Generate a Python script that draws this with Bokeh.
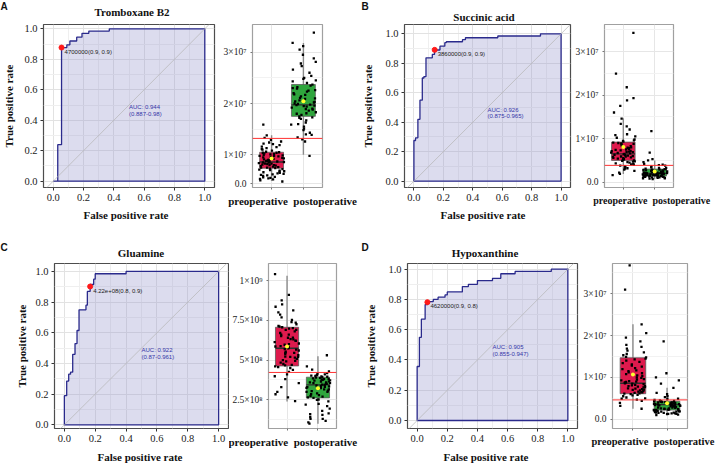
import math
from bokeh.plotting import figure
from bokeh.layouts import row, column
from bokeh.models import Range1d, FixedTicker, PrintfTickFormatter, CustomJSTickFormatter, Label, Span, Div
from bokeh.embed import file_html
from bokeh.resources import INLINE

SERIF = "Liberation Serif"
SANS = "Liberation Sans"

# ---------------- ROC data ----------------
titles = ["Tromboxane B2", "Succinic acid", "Gluamine", "Hypoxanthine"]
tags = ["A", "B", "C", "D"]
x_title = "False positive rate"
y_title = "True positive rate"

rocA_fpr = [0.0, 0.03, 0.055, 0.09, 0.11, 0.155, 0.19, 0.235, 0.37, 1.0]
rocA_tpr = [0.0, 0.24, 0.877, 0.895, 0.92, 0.945, 0.97, 0.985, 1.0, 1.0]

rocB_fpr = [0.0, 0.0, 0.011, 0.027, 0.041, 0.057, 0.068, 0.082, 0.125, 0.14, 0.177, 0.21, 0.22, 0.33, 0.35, 0.57, 0.86, 1.0]
rocB_tpr = [0.0, 0.276, 0.294, 0.42, 0.55, 0.70, 0.71, 0.837, 0.86, 0.89, 0.916, 0.94, 0.946, 0.96, 0.973, 0.985, 1.0, 1.0]

rocC_fpr = [0.0, 0.0, 0.015, 0.028, 0.04, 0.054, 0.069, 0.082, 0.095, 0.14, 0.149, 0.167, 0.19, 0.2, 0.4, 1.0]
rocC_tpr = [0.0, 0.19, 0.285, 0.33, 0.343, 0.46, 0.53, 0.615, 0.75, 0.78, 0.87, 0.915, 0.95, 0.985, 1.0, 1.0]

rocD_fpr = [0.0, 0.0, 0.015, 0.028, 0.053, 0.068, 0.107, 0.139, 0.185, 0.2, 0.3, 0.34, 0.4, 0.5, 0.555, 0.65, 0.89, 1.0]
rocD_tpr = [0.0, 0.357, 0.55, 0.67, 0.766, 0.786, 0.80, 0.815, 0.83, 0.85, 0.885, 0.9, 0.925, 0.94, 0.97, 0.985, 1.0, 1.0]

auc_text = ["AUC: 0.944", "AUC: 0.926", "AUC: 0.922", "AUC: 0.905"]
auc_ci = ["(0.887-0.98)", "(0.875-0.965)", "(0.87-0.961)", "(0.855-0.947)"]
thr_fpr = [0.055, 0.141, 0.167, 0.068]
thr_tpr = [0.877, 0.891, 0.902, 0.782]
thr_text = ["4700000(0.9, 0.9)", "3860000(0.9, 0.9)", "4.22e+08(0.8, 0.9)", "4620000(0.9, 0.8)"]

# ---------------- box plot data (values in millions) ----------------
groups = ["preoperative", "postoperative"]

A_pre = [4.8, 5.0, 5.2, 5.4, 5.5, 5.7, 5.9, 6.0, 6.2, 6.3, 6.5, 6.6, 6.8, 6.9, 7.0, 7.2, 7.3, 7.4, 7.5, 7.6,
         7.7, 7.9, 8.0, 8.1, 8.2, 8.3, 8.4, 8.5, 8.6, 8.6, 8.7, 8.8, 9.0, 9.1, 9.2, 9.3, 9.4, 9.6, 9.7, 9.8,
         9.9, 10.1, 10.3, 10.4, 10.5, 10.6, 10.8, 11.0, 11.1, 11.3, 11.6, 11.9, 12.1, 12.4, 12.6, 12.9, 13.3, 13.8, 15.9,
         5.6, 6.1, 6.7, 7.1, 7.5, 7.8, 8.0, 8.3, 8.5, 8.8, 9.0, 9.2, 9.5, 9.8, 10.0, 10.2, 10.4, 11.5, 12.2, 5.3, 6.4]
A_post = [9.8, 12.6, 13.0, 13.4, 13.9, 14.3, 14.8, 15.1, 15.5, 15.9, 16.3, 16.7, 17.0, 17.3, 17.5, 17.8, 18.0,
          18.3, 18.6, 18.8, 19.0, 19.2, 19.4, 19.6, 19.7, 19.8, 20.0, 20.2, 20.4, 20.6, 20.9, 21.1, 21.4, 21.7,
          22.0, 22.3, 22.6, 22.9, 23.2, 23.5, 23.7, 24.0, 24.3, 24.8, 25.4, 26.0, 26.6, 27.3, 28.1, 28.8, 29.5,
          30.5, 31.2, 31.8, 33.8,
          16.0, 17.2, 18.1, 18.9, 19.5, 19.9, 20.3, 21.0, 21.8, 22.5, 23.0, 24.5, 25.0, 27.8, 14.0]
B_pre = [1.6, 1.9, 2.2, 2.6, 2.9, 3.1, 3.3, 3.5, 3.6, 3.8, 4.0, 4.1, 4.3, 4.5, 4.6, 4.8, 4.9, 5.0, 5.2, 5.3,
         5.5, 5.6, 5.8, 5.9, 6.0, 6.2, 6.3, 6.5, 6.6, 6.8, 6.9, 7.1, 7.3, 7.4, 7.6, 7.8, 8.0, 8.2, 8.4, 8.7,
         8.9, 9.1, 9.3, 9.5, 9.8, 10.2, 10.5, 11.0, 12.1, 12.8, 13.4, 14.6, 16.0, 17.5, 18.8, 19.3, 21.8, 24.9, 34.3,
         4.2, 4.7, 5.1, 5.4, 5.7, 6.1, 6.4, 6.7, 7.0, 7.2, 7.5, 7.9, 8.3, 8.8, 9.0, 9.6, 3.2, 10.8, 5.9, 6.9]
B_post = [0.7, 0.8, 0.9, 1.0, 1.0, 1.1, 1.2, 1.2, 1.3, 1.3, 1.4, 1.4, 1.5, 1.5, 1.6, 1.6, 1.7, 1.7, 1.8, 1.8,
          1.9, 1.9, 2.0, 2.0, 2.1, 2.1, 2.2, 2.3, 2.3, 2.4, 2.5, 2.6, 2.7, 2.8, 2.9, 3.0, 3.1, 3.2, 3.4, 3.6,
          3.9, 4.2, 4.6, 5.0, 5.3, 6.8, 11.7,
          1.1, 1.3, 1.5, 1.6, 1.7, 1.8, 1.9, 2.0, 2.1, 2.2, 2.4, 2.5, 2.6, 2.8, 3.0, 3.3, 1.2, 1.4, 1.8, 2.0,
          2.3, 2.7, 0.9, 1.5, 2.2, 4.0, 3.8, 2.9]
C_pre = [242, 265, 285, 300, 330, 355, 380, 398, 410, 425, 438, 450, 460, 466, 475, 484, 492, 500, 507, 515,
         522, 530, 538, 545, 552, 560, 568, 574, 580, 588, 596, 604, 613, 622, 632, 641, 650, 660, 670, 680,
         690, 698, 706, 714, 725, 738, 752, 768, 785, 800, 812, 835, 850, 875, 910, 1040,
         470, 495, 520, 545, 565, 585, 600, 620, 640, 660, 690, 710, 735, 520, 455, 580, 630, 700]
C_post = [100, 108, 118, 130, 142, 155, 165, 180, 195, 210, 225, 240, 252, 262, 270, 280, 290, 300, 308, 316,
          324, 332, 338, 344, 350, 355, 360, 366, 372, 377, 382, 388, 392, 397, 402, 410, 418, 428, 440, 460, 530,
          250, 265, 285, 300, 315, 330, 340, 350, 360, 370, 380, 390, 400, 405, 385, 365, 345, 325, 305, 275,
          220, 160, 130, 395, 375, 355, 335, 415]
D_pre = [2.5, 3.2, 3.9, 4.4, 4.9, 5.2, 5.5, 5.8, 6.0, 6.2, 6.4, 6.6, 6.8, 7.0, 7.2, 7.4, 7.6, 7.8, 8.0, 8.2,
         8.4, 8.6, 8.8, 9.0, 9.3, 9.6, 9.9, 10.3, 10.8, 11.2, 11.7, 12.2, 12.8, 13.4, 14.0, 14.5, 14.8, 15.3,
         16.0, 16.9, 17.8, 18.6, 19.5, 20.6, 22.7, 31.0, 36.8,
         5.0, 5.7, 6.1, 6.5, 6.9, 7.3, 7.7, 8.1, 8.5, 8.7, 9.1, 9.5, 10.0, 10.5, 11.0, 11.5, 12.0, 12.6, 13.1,
         13.7, 14.3, 14.9, 15.6, 16.4, 6.3, 7.1, 7.9, 8.9, 4.7, 17.3]
D_post = [1.0, 1.1, 1.3, 1.4, 1.5, 1.6, 1.7, 1.8, 1.9, 2.0, 2.1, 2.2, 2.3, 2.4, 2.6, 2.8, 2.9, 3.1, 3.2, 3.3,
          3.4, 3.5, 3.6, 3.7, 3.8, 3.9, 4.0, 4.1, 4.2, 4.3, 4.5, 4.8, 5.3, 6.0, 7.5, 8.5, 9.3, 10.0, 11.0, 18.6,
          1.2, 1.4, 1.6, 1.8, 2.0, 2.1, 2.2, 2.3, 2.5, 2.7, 3.0, 3.2, 3.4, 3.5, 3.6, 3.7, 3.8, 3.9, 4.0, 4.1,
          4.2, 4.3, 4.4, 4.6, 1.5, 1.9, 2.4, 2.8, 3.3, 3.1, 4.9, 5.5, 6.3, 1.3, 2.6]

# box statistics [pre, post]
A_q1, A_med, A_q3, A_lo, A_hi, A_mean = [7.4, 17.5], [8.6, 19.75], [10.5, 23.7], [4.9, 10.0], [13.8, 31.8], [9.3, 20.45]
B_q1, B_med, B_q3, B_lo, B_hi, B_mean = [5.0, 1.4], [6.5, 2.0], [9.2, 3.0], [1.9, 0.7], [14.7, 5.0], [8.05, 2.45]
C_q1, C_med, C_q3, C_lo, C_hi, C_mean = [463, 262], [574, 344], [706, 392], [239, 99], [1030, 524], [585, 323]
D_q1, D_med, D_q3, D_lo, D_hi, D_mean = [6.1, 2.2], [8.6, 3.5], [14.7, 4.3], [2.5, 1.0], [22.7, 7.5], [10.7, 3.8]
cutoffs = [13.2, 3.86, 422, 4.62]

A_ticks, A_labels = [4.35, 10, 20, 30], ["0.0", "1×10⁷", "2×10⁷", "3×10⁷"]
B_ticks, B_labels = [0, 10, 20, 30], ["0.0", "1×10⁷", "2×10⁷", "3×10⁷"]
C_ticks, C_labels = [250, 500, 750, 1000], ["2.5×10⁸", "5×10⁸", "7.5×10⁸", "1×10⁹"]
D_ticks, D_labels = [0, 10, 20, 30], ["0.0", "1×10⁷", "2×10⁷", "3×10⁷"]

PRE_COL = "#de1a4d"
POST_COL = "#2fa53d"
NAVY = "#2a2a8c"

# frames in a row share top/bottom borders
TOP_BT, TOP_BB = 24, 43      # top row: frames y 24..187
BOT_BT, BOT_BB = 33, 36      # bottom row: frames y 263..428


def step_path(fpr, tpr):
    xs, ys = [fpr[0]], [tpr[0]]
    for k in range(1, len(fpr)):
        xs += [fpr[k], fpr[k]]
        ys += [tpr[k - 1], tpr[k]]
    return xs, ys


def style_axis(ax, size="10.5px"):
    ax.axis_line_color = None
    ax.major_tick_line_color = "#333333"
    ax.major_tick_in = 0
    ax.major_tick_out = 3
    ax.minor_tick_line_color = None
    ax.major_label_text_font = SERIF
    ax.major_label_text_font_size = size
    ax.major_label_text_color = "#222222"
    ax.major_label_text_line_height = 1.0
    ax.major_label_standoff = 2
    ax.axis_label_text_font = SERIF
    ax.axis_label_text_font_size = "11px"
    ax.axis_label_text_font_style = "bold"
    ax.axis_label_text_color = "#111111"
    ax.axis_label_text_line_height = 1.0


def base_fig(width, height, bl, br, bt, bb, xr, yr):
    p = figure(width=width, height=height, x_range=xr, y_range=yr, title=None,
               output_backend="svg", toolbar_location=None,
               min_border_left=bl, min_border_right=br, min_border_top=bt, min_border_bottom=bb)
    p.border_fill_color = None
    p.background_fill_color = "white"
    return p


def roc_fig(i, fpr, tpr, width, height, bl, br, bt, bb, ylo, yhi, ylab_standoff):
    p = base_fig(width, height, bl, br, bt, bb, Range1d(-0.064, 1.064), Range1d(ylo, yhi))
    p.outline_line_color = "#4d4d4d"
    p.outline_line_width = 1.2
    major = [0, 0.2, 0.4, 0.6, 0.8, 1.0]
    minor = [0.1, 0.3, 0.5, 0.7, 0.9]
    for ax in (p.xaxis[0], p.yaxis[0]):
        ax.ticker = FixedTicker(ticks=major, minor_ticks=minor)
        ax.formatter = PrintfTickFormatter(format="%.1f")
        style_axis(ax)
    p.yaxis.axis_label = y_title
    p.yaxis.axis_label_standoff = ylab_standoff
    for g in (p.xgrid, p.ygrid):
        g.grid_line_color = "#e2e2e2"
        g.minor_grid_line_color = "#efefef"

    xs, ys = step_path(fpr, tpr)
    p.patch(xs + [1.0, 0.0], ys + [0.0, 0.0], fill_color="#9a9acd", fill_alpha=0.35,
            line_color=NAVY, line_width=1.3)
    p.line([-0.2, 1.2], [-0.2, 1.2], line_color="#b4b4b4", line_width=0.7)
    p.scatter([thr_fpr[i]], [thr_tpr[i]], size=5, color="#ff1a1a")

    p.add_layout(Label(x=thr_fpr[i], y=thr_tpr[i], x_offset=3, y_offset=-4, text=thr_text[i],
                       text_font=SANS, text_font_size="6px", text_color="#222222",
                       text_baseline="middle", text_align="left"))
    p.add_layout(Label(x=0.5, y=0.485, text=auc_text[i], text_font=SANS, text_font_size="6px",
                       text_color="#3535a8", text_baseline="middle", text_align="left"))
    p.add_layout(Label(x=0.5, y=0.44, text=auc_ci[i], text_font=SANS, text_font_size="6px",
                       text_color="#3535a8", text_baseline="middle", text_align="left"))
    return p


def jitter(n, seed):
    out = []
    for k in range(n):
        h = math.sin((k + 1) * 12.9898 + seed * 78.233) * 43758.5453
        out.append((h - math.floor(h) - 0.5) * 0.8)
    return out


def box_fig(i, pre, post, q1, med, q3, lo, hi, mean, ticks, tlabels, minor, ylo, yhi,
            width, height, bl, br, bt, bb, lab_x, lab_size):
    p = base_fig(width, height, bl, br, bt, bb, Range1d(0.4, 2.6), Range1d(ylo, yhi))
    p.outline_line_color = "#a0a0a0"
    p.outline_line_width = 1.2
    # one centred label carrying both group names, tick marks at the two groups
    p.xaxis.ticker = FixedTicker(ticks=[lab_x], minor_ticks=[1, 2])
    p.xaxis.formatter = CustomJSTickFormatter(args=dict(names=groups),
                                              code="return names.join('\\u2002');")
    p.yaxis.ticker = FixedTicker(ticks=ticks, minor_ticks=minor)
    p.yaxis.formatter = CustomJSTickFormatter(args=dict(vals=ticks, labs=tlabels), code="""
        for (let k = 0; k < vals.length; k++) {
            if (Math.abs(vals[k] - tick) < 1e-6 * (Math.abs(tick) + 1)) { return labs[k]; }
        }
        return '';
    """)
    style_axis(p.yaxis[0], "9.5px")
    p.yaxis.major_tick_line_color = "#777777"
    p.yaxis.major_tick_out = 2
    style_axis(p.xaxis[0], lab_size)
    p.xaxis.major_tick_line_color = None
    p.xaxis.minor_tick_line_color = "#777777"
    p.xaxis.minor_tick_out = 2
    p.xaxis.minor_tick_in = 0
    p.xaxis.major_label_standoff = 4
    p.xaxis.major_label_text_font_style = "bold"
    p.xaxis.major_label_text_color = "#111111"
    p.xgrid.ticker = FixedTicker(ticks=[1, 2])
    p.xgrid.grid_line_color = "#e6e6e6"
    p.ygrid.grid_line_color = "#e6e6e6"
    p.ygrid.minor_grid_line_color = "#f2f2f2"

    xc = [1, 2]
    hw = 0.375
    p.segment(x0=xc, y0=lo, x1=xc, y1=hi, line_color="#8a8a8a", line_width=1.4)
    p.quad(left=[c - hw for c in xc], right=[c + hw for c in xc], bottom=q1, top=q3,
           fill_color=[PRE_COL, POST_COL], line_color="#5c5c5c", line_width=0.8)
    p.segment(x0=[c - hw for c in xc], y0=med, x1=[c + hw for c in xc], y1=med,
              line_color="#2e2e2e", line_width=1.3)
    jx = [1 + d for d in jitter(len(pre), 2 * i)] + [2 + d for d in jitter(len(post), 2 * i + 1)]
    p.scatter(jx, list(pre) + list(post), size=2.3, marker="square", color="#000000", line_color=None)
    p.scatter(xc, mean, size=4, color="#ffff2e", line_color=None)
    p.add_layout(Span(location=cutoffs[i], dimension="width", line_color="#ff3030", line_width=1))
    return p


# top row (page y 0..230)
rA = roc_fig(0, rocA_fpr, rocA_tpr, 218, 230, 43, 4, TOP_BT, TOP_BB, -0.0413, 1.0282, 6)
bA = box_fig(0, A_pre, A_post, A_q1, A_med, A_q3, A_lo, A_hi, A_mean, A_ticks, A_labels, [15, 25],
             3.63, 35.4, 140, 230, 34, 36, TOP_BT, TOP_BB, 1.657, "11px")
rB = roc_fig(1, rocB_fpr, rocB_tpr, 214, 230, 46, 2, TOP_BT, TOP_BB, -0.0427, 1.063, 8)
bB = box_fig(1, B_pre, B_post, B_q1, B_med, B_q3, B_lo, B_hi, B_mean, B_ticks, B_labels, [5, 15, 25, 35],
             -1.22, 36.2, 144, 230, 28, 43, TOP_BT, TOP_BB, 1.907, "10px")
# bottom row (page y 230..464)
rC = roc_fig(2, rocC_fpr, rocC_tpr, 229, 234, 54, 1, BOT_BT, BOT_BB, -0.024, 1.052, 4)
bC = box_fig(2, C_pre, C_post, C_q1, C_med, C_q3, C_lo, C_hi, C_mean, C_ticks, C_labels, [125, 375, 625, 875],
             69.6, 1106.9, 133, 234, 37, 26, BOT_BT, BOT_BB, 1.531, "11px")
rD = roc_fig(3, rocD_fpr, rocD_tpr, 218, 234, 43, 3, BOT_BT, BOT_BB, -0.0529, 1.0377, 8)
bD = box_fig(3, D_pre, D_post, D_q1, D_med, D_q3, D_lo, D_hi, D_mean, D_ticks, D_labels, [5, 15, 25, 35],
             -2.22, 37.25, 136, 234, 31, 29, BOT_BT, BOT_BB, 1.587, "10.5px")

# panel tags, panel titles and x-axis titles, placed over the figures' margins
tag_pos = [(4, 6.5), (365, 7), (4, 248), (365, 248)]
title_pos = [(132, 12), (484, 17), (141, 253), (485, 253)]
xlab_pos = [(126, 215), (483, 215), (140, 457), (486, 457)]


def span(text, x, y, family, size):
    return (f'<span style="position:absolute;left:{x}px;top:{y}px;transform:translate(-50%,-50%);'
            f'font-family:\'{family}\';font-size:{size}px;font-weight:bold;color:#111;'
            f'line-height:1;white-space:nowrap;">{text}</span>')


spans = [span(t, x, y, SANS, 10) for t, (x, y) in zip(tags, tag_pos)]
spans += [span(t, x, y, SERIF, 11) for t, (x, y) in zip(titles, title_pos)]
spans += [span(x_title, x, y, SERIF, 11) for (x, y) in xlab_pos]
overlay = Div(text='<div style="position:absolute;left:0;top:0;width:0;height:0;overflow:visible;">'
                   + "".join(spans) + '</div>',
              width=716, height=0, margin=0, styles={"overflow": "visible", "z-index": "50"})

layout = column(overlay, row(rA, bA, rB, bB), row(rC, bC, rD, bD))

with open("out.html", "w") as f:
    f.write(file_html(layout, INLINE))
